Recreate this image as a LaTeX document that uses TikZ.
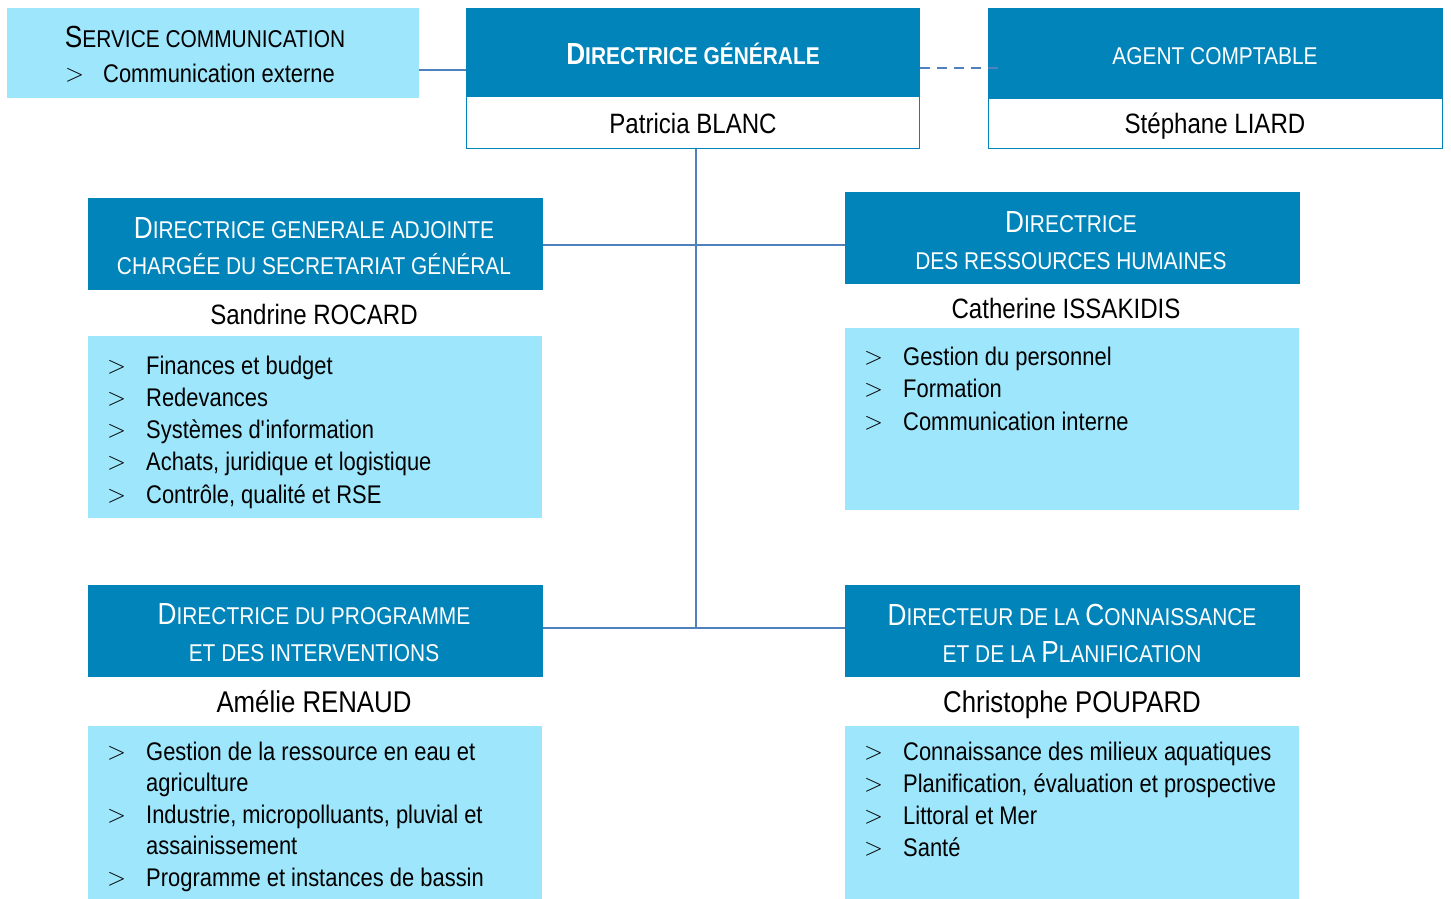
\documentclass[tikz,border=0pt]{standalone}
\usepackage{fontspec}
\setmainfont{Liberation Sans}[FakeStretch=0.86]
\usepackage{array}
\definecolor{dkblue}{HTML}{0084BA}
\definecolor{ltblue}{HTML}{9EE6FC}
\definecolor{linec}{HTML}{4F81BD}
\newcommand\scw[2]{{\fontsize{30.5}{30}\selectfont #1}{\fontsize{24.3}{30}\selectfont #2}}
\newcommand\smc{\fontsize{24.3}{30}\selectfont}
\newcommand\gt{{\fontsize{24}{20}\selectfont\raisebox{1pt}{$>$}}}
\tikzset{
  headbox/.style={fill=dkblue, draw=dkblue, line width=0.8pt, inner sep=0pt, anchor=north west},
  namebox/.style={fill=white, draw=dkblue, line width=1pt, inner sep=0pt, anchor=north west},
  listbox/.style={fill=ltblue, inner sep=0pt, anchor=north west},
  htxt/.style={text=white, anchor=base, inner sep=0pt},
  ntxt/.style={text=black, anchor=base, inner sep=0pt, font=\fontsize{28}{30}\selectfont},
  ntxtb/.style={ntxt, font=\fontsize{30}{30}\selectfont},
  ltxt/.style={text=black, anchor=base west, inner sep=0pt, align=left},
  conn/.style={draw=linec, line width=2pt},
}
\begin{document}
\begin{tikzpicture}[x=1pt,y=-1pt]
\useasboundingbox (0,0) rectangle (1451,899);

\coordinate (ttop) at (696,148);
\coordinate (tbot) at (696,628);
\coordinate (j1) at (696,245);
\coordinate (j2) at (696,628);

% top row
\node[listbox, minimum width=412, minimum height=90] (svc) at (7,8) {};
\node[headbox, minimum width=453, minimum height=88] (dghead) at (466,8) {};
\node[namebox, minimum width=453, minimum height=52] (dgname) at (466,96) {};
\node[headbox, minimum width=454, minimum height=90] (achead) at (988,8) {};
\node[namebox, minimum width=454, minimum height=50] (acname) at (988,98) {};

% middle and bottom
\node[headbox, minimum width=454, minimum height=91] (dgahead) at (88,198) {};
\node[listbox, minimum width=454, minimum height=182] (dgalist) at (88,336) {};
\node[headbox, minimum width=454, minimum height=91] (drhhead) at (845,192) {};
\node[listbox, minimum width=454, minimum height=182] (drhlist) at (845,328) {};
\node[headbox, minimum width=454, minimum height=91] (dpihead) at (88,585) {};
\node[listbox, minimum width=454, minimum height=173] (dpilist) at (88,726) {};
\node[headbox, minimum width=454, minimum height=91] (dcphead) at (845,585) {};
\node[listbox, minimum width=454, minimum height=173] (dcplist) at (845,726) {};

% connectors
\coordinate (c0) at (442,70);
\draw[conn] (svc.east |- c0) -- (dghead.west |- c0);
\coordinate (c1) at (960,68);
\draw[conn, dash pattern=on 10pt off 7pt, line width=2.5pt] (dghead.east |- c1) -- ([xshift=14pt]achead.west |- c1);
\draw[conn] (dgname.south -| ttop) -- (tbot);
\draw[conn] (dgahead.east |- j1) -- (drhhead.west |- j1);
\draw[conn] (dpihead.east |- j2) -- (dcphead.west |- j2);

% service communication
\node[text=black, anchor=base, inner sep=0pt] (svct) at (205,48) {\scw{S}{ERVICE COMMUNICATION}};
\node[ltxt, font=\fontsize{25.5}{30}\selectfont] (svcl) at (65,82)
  {\begin{tabular}[t]{@{}p{38pt}@{}l@{}}\gt & Communication externe\end{tabular}};

% DG
\node[htxt] (dgt) at (693,64) {\bfseries\scw{D}{IRECTRICE GÉNÉRALE}};
\node[ntxt] (dgn) at (693,133) {Patricia BLANC};

% Agent comptable
\node[htxt, font=\smc] (act) at (1215,64) {AGENT COMPTABLE};
\node[ntxt] (acn) at (1215,133) {Stéphane LIARD};

% DGA
\node[htxt] (dgat1) at (314,238) {\scw{D}{IRECTRICE GENERALE ADJOINTE}};
\node[htxt, font=\smc] (dgat2) at (314,274) {CHARGÉE DU SECRETARIAT GÉNÉRAL};
\node[ntxt] (dgan) at (314,324) {Sandrine ROCARD};
\node[ltxt, font=\fontsize{25.5}{32.3}\selectfont] (dgal) at (107,374)
  {\begin{tabular}[t]{@{}p{39pt}@{}l@{}}
   \gt & Finances et budget\\
   \gt & Redevances\\
   \gt & Systèmes d\textquotesingle information\\
   \gt & Achats, juridique et logistique\\
   \gt & Contrôle, qualité et RSE
   \end{tabular}};

% DRH
\node[htxt] (drht1) at (1071,232) {\scw{D}{IRECTRICE}};
\node[htxt, font=\smc] (drht2) at (1071,269) {DES RESSOURCES HUMAINES};
\node[ntxt] (drhn) at (1066,318) {Catherine ISSAKIDIS};
\node[ltxt, font=\fontsize{25.5}{32.5}\selectfont] (drhl) at (864,365)
  {\begin{tabular}[t]{@{}p{39pt}@{}l@{}}
   \gt & Gestion du personnel\\
   \gt & Formation\\
   \gt & Communication interne
   \end{tabular}};

% DPI
\node[htxt] (dpit1) at (314,624) {\scw{D}{IRECTRICE DU PROGRAMME}};
\node[htxt, font=\smc] (dpit2) at (314,661) {ET DES INTERVENTIONS};
\node[ntxtb] (dpin) at (314,712) {Amélie RENAUD};
\node[ltxt, font=\fontsize{25.5}{31.5}\selectfont] (dpil) at (107,760)
  {\begin{tabular}[t]{@{}p{39pt}@{}l@{}}
   \gt & Gestion de la ressource en eau et\\
       & agriculture\\
   \gt & Industrie, micropolluants, pluvial et\\
       & assainissement\\
   \gt & Programme et instances de bassin
   \end{tabular}};

% DCP
\node[htxt] (dcpt1) at (1072,625) {\scw{D}{IRECTEUR DE LA }\scw{C}{ONNAISSANCE}};
\node[htxt] (dcpt2) at (1072,662) {{\smc ET DE LA }\scw{P}{LANIFICATION}};
\node[ntxtb] (dcpn) at (1072,712) {Christophe POUPARD};
\node[ltxt, font=\fontsize{25.5}{32.3}\selectfont] (dcpl) at (864,760)
  {\begin{tabular}[t]{@{}p{39pt}@{}l@{}}
   \gt & Connaissance des milieux aquatiques\\
   \gt & Planification, évaluation et prospective\\
   \gt & Littoral et Mer\\
   \gt & Santé
   \end{tabular}};
\end{tikzpicture}
\end{document}
